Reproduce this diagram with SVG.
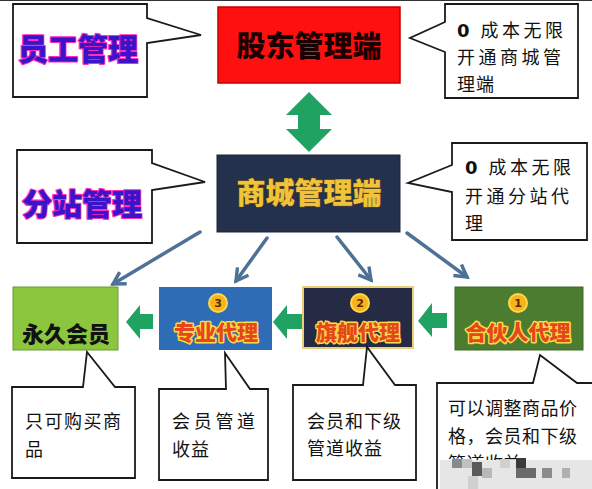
<svg xmlns="http://www.w3.org/2000/svg" width="592" height="489" viewBox="0 0 592 489">
<defs>
<style>
.callout{fill:#fff;stroke:#1a1a1a;stroke-width:1.8;stroke-linejoin:miter}
.ct{font-family:"Noto Sans CJK SC","Noto Sans",sans-serif;font-size:18px;fill:#111}
.b{font-family:"DejaVu Sans",sans-serif;font-weight:bold}
.side{font-family:"Noto Sans CJK SC",sans-serif;font-size:30px;font-weight:900;fill:#3a14c8;stroke:#ff2cc0;stroke-width:2.2;paint-order:stroke;stroke-linejoin:round}
.title{font-family:"Noto Sans CJK SC",sans-serif;font-size:29px;font-weight:900;text-anchor:middle}
.lvl{font-family:"Noto Sans CJK SC",sans-serif;font-size:21px;font-weight:900;text-anchor:middle;fill:#e4471a;stroke:#ffd84a;stroke-width:3;paint-order:stroke;stroke-linejoin:round}
.num{font-family:"DejaVu Sans",sans-serif;font-size:11px;font-weight:bold;text-anchor:middle;fill:#5a2a00}
.circ{fill:#f7b21c;stroke:#ffd84a;stroke-width:2}
.green{fill:#1fa262}
.conn{stroke:#4e7196;stroke-width:3.5;fill:none;stroke-linecap:round}
</style>
<marker id="ah" viewBox="0 0 10 10" refX="8" refY="5" markerWidth="17" markerHeight="17" markerUnits="userSpaceOnUse" orient="auto">
<path d="M1,1 L8,5 L1,9" fill="none" stroke="#4e7196" stroke-width="2" stroke-linejoin="miter"/>
</marker>
</defs>
<rect width="592" height="489" fill="#fff"/>
<line x1="0" y1="0.5" x2="592" y2="0.5" stroke="#333" stroke-width="1.2"/>

<g id="connectors">
<line class="conn" x1="200" y1="232" x2="113" y2="284" marker-end="url(#ah)"/>
<line class="conn" x1="267" y1="238" x2="236" y2="281" marker-end="url(#ah)"/>
<line class="conn" x1="337" y1="237" x2="371" y2="280" marker-end="url(#ah)"/>
<line class="conn" x1="407" y1="233" x2="467" y2="277" marker-end="url(#ah)"/>
<polygon class="green" points="309,92 332,115 320,115 320,129 332,129 309,152 286,129 298,129 298,115 286,115"/>
<polygon class="green" points="126,322 140,305 140,314 153,314 153,329 140,329 140,339"/>
<polygon class="green" points="273,322 287,305 287,314 302,314 302,329 287,329 287,339"/>
<polygon class="green" points="418,321 432,303 432,313 447,313 447,328 432,328 432,337"/>
</g>

<g id="staff-callout">
<path class="callout" d="M13,4 H147 V18 L201,35 L147,43 V97 H13 Z"/>
<text class="side" x="18" y="60">员工管理</text>
</g>

<g id="shareholder">
<rect x="218" y="7" width="182" height="76" fill="#ff1010" stroke="#c00000" stroke-width="1.5"/>
<text class="title" x="309" y="57" fill="#1a0000">股东管理端</text>
</g>

<g id="shareholder-note">
<path class="callout" d="M445,4 H578 V98 H445 V52 L410,38 L445,22 Z"/>
<text class="ct" x="457" y="37" letter-spacing="3.5"><tspan class="b">0</tspan> 成本无限</text>
<text class="ct" x="457" y="64" letter-spacing="3.5">开通商城管</text>
<text class="ct" x="457" y="91" letter-spacing="1">理端</text>
</g>

<g id="branch-callout">
<path class="callout" d="M17,150 H152 V163 L205,182 L152,190 V243 H17 Z"/>
<text class="side" x="22" y="215">分站管理</text>
</g>

<g id="mall">
<rect x="217" y="155" width="183" height="77" fill="#24314d" stroke="#1a2438" stroke-width="1"/>
<text class="title" x="309" y="204" fill="#f0c33a" stroke="#7a5a10" stroke-width="0.8" paint-order="stroke">商城管理端</text>
</g>

<g id="mall-note">
<path class="callout" d="M452,143 H587 V240 H452 V192 L408,183 L452,165 Z"/>
<text class="ct" x="465" y="174" letter-spacing="3.5"><tspan class="b">0</tspan> 成本无限</text>
<text class="ct" x="465" y="203" letter-spacing="3.5">开通分站代</text>
<text class="ct" x="465" y="230">理</text>
</g>

<g id="member">
<rect x="13" y="287" width="105" height="63" fill="#8cc63f" stroke="#6a9a30" stroke-width="1"/>
<text x="66" y="342" font-family="Noto Sans CJK SC,sans-serif" font-size="22" font-weight="900" text-anchor="middle" fill="#111">永久会员</text>
</g>

<g id="pro-agent">
<rect x="159" y="287" width="113" height="63" fill="#2e6db5"/>
<circle class="circ" cx="218" cy="303" r="9"/>
<text class="num" x="218" y="307">3</text>
<text class="lvl" x="216" y="340">专业代理</text>
</g>

<g id="flagship-agent">
<rect x="303" y="287" width="110" height="61" fill="#262b45" stroke="#e8cf78" stroke-width="2"/>
<circle class="circ" cx="360" cy="303" r="9"/>
<text class="num" x="360" y="307">2</text>
<text class="lvl" x="358" y="340">旗舰代理</text>
</g>

<g id="partner-agent">
<rect x="455" y="287" width="128" height="63" fill="#4b7c30" stroke="#3e6a26" stroke-width="1"/>
<circle class="circ" cx="518" cy="303" r="9"/>
<text class="num" x="518" y="307">1</text>
<text class="lvl" x="518" y="340" font-size="20">合伙人代理</text>
</g>

<g id="member-note">
<path class="callout" d="M12,387 H83 L87,352 L115,387 H135 V478 H12 Z"/>
<text class="ct" x="25" y="428" letter-spacing="1.5">只可购买商</text>
<text class="ct" x="25" y="456">品</text>
</g>

<g id="pro-note">
<path class="callout" d="M159,389 H226 L225,353 L250,389 H268 V480 H159 Z"/>
<text class="ct" x="172" y="428" letter-spacing="3.7">会员管道</text>
<text class="ct" x="172" y="456" letter-spacing="1">收益</text>
</g>

<g id="flagship-note">
<path class="callout" d="M293,385 H363 L367,347 L395,385 H416 V480 H293 Z"/>
<text class="ct" x="307" y="428" letter-spacing="1">会员和下级</text>
<text class="ct" x="307" y="455" letter-spacing="1">管道收益</text>
</g>

<g id="partner-note">
<path class="callout" d="M437,490 V383 H533 L540,355 L577,383 H596"/>
<text class="ct" x="448" y="415" font-size="20" letter-spacing="0.5">可以调整商品价</text>
<text class="ct" x="448" y="443" font-size="20" letter-spacing="0.5">格，会员和下级</text>
<text class="ct" x="448" y="470" font-size="20" letter-spacing="0.5">管道收益</text>
<g id="mosaic" stroke="none">
<rect x="440" y="460" width="152" height="29" fill="#e6e6e6"/>
<rect x="452" y="459" width="10" height="9" fill="#8a8a8a"/>
<rect x="462" y="459" width="10" height="9" fill="#c0c0c0"/>
<rect x="472" y="462" width="10" height="14" fill="#5a5a5a"/>
<rect x="482" y="468" width="10" height="10" fill="#b8b8b8"/>
<rect x="500" y="459" width="10" height="9" fill="#d0d0d0"/>
<rect x="516" y="458" width="10" height="10" fill="#3a3a3a"/>
<rect x="516" y="468" width="20" height="10" fill="#6a6a6a"/>
<rect x="542" y="468" width="10" height="10" fill="#8c8c8c"/>
<rect x="562" y="468" width="8" height="10" fill="#b0b0b0"/>
<rect x="468" y="476" width="10" height="13" fill="#cfcfcf"/>
</g>
</g>
</svg>
